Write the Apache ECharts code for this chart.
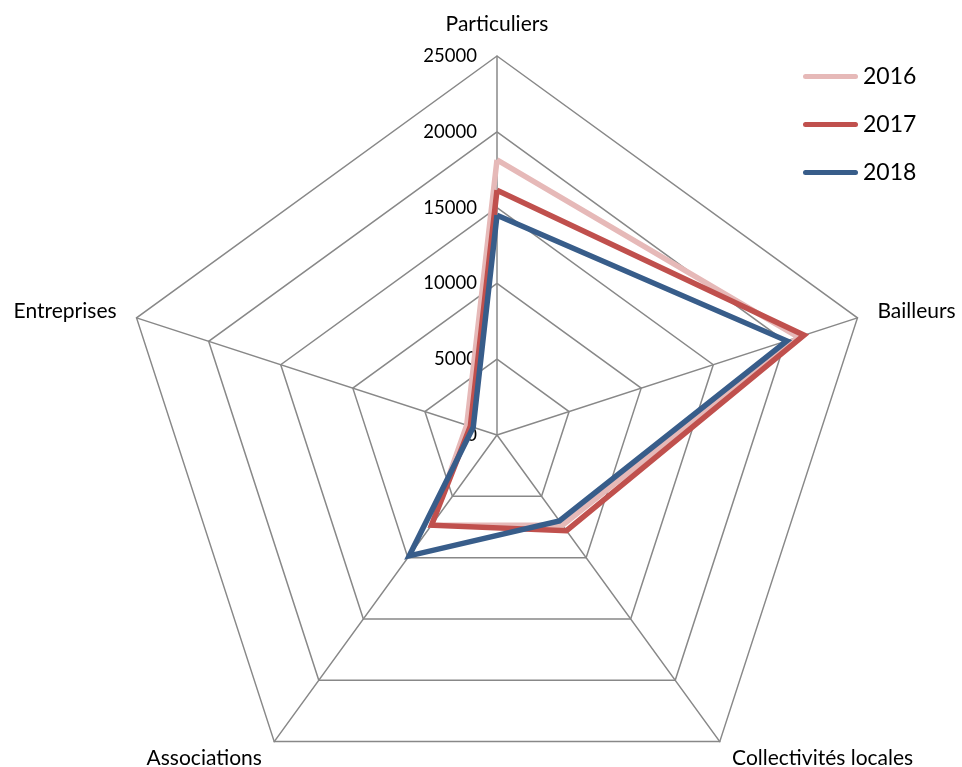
<!DOCTYPE html>
<html>
<head>
<meta charset="utf-8">
<script src="https://cdn.jsdelivr.net/npm/echarts@6/dist/echarts.min.js"></script>
<style>
html,body{margin:0;padding:0;background:#fff;}
#chart{width:962px;height:767px;}
</style>
</head>
<body>
<div id="chart"></div>
<script>
// Categories listed in ECharts drawing order (counter-clockwise from the top)
const categories = ['Particuliers', 'Entreprises', 'Associations', 'Collectivités locales', 'Bailleurs'];
const axisMax = 25000;
const years = ['2016', '2017', '2018'];
const values2016 = [18150, 2100, 7350, 7350, 20900];
const values2017 = [16150, 1850, 7350, 7800, 21300];
const values2018 = [14500, 1650, 9850, 7000, 20100];
const colors = ['#E6B9B8', '#C0504D', '#385D8A'];

const seriesValues = [values2016, values2017, values2018];
const font = 'Lato, "Open Sans", sans-serif';
const legendIcon = 'path://M2.5,0 H52.5 A2.5,2.5 0 0 1 52.5,5 H2.5 A2.5,2.5 0 0 1 2.5,0 Z';

const chart = echarts.init(document.getElementById('chart'));
chart.setOption({
  animation: false,
  color: colors,
  legend: {
    orient: 'vertical',
    left: 798,
    top: 60,
    itemWidth: 55,
    itemHeight: 5,
    itemGap: 25,
    icon: legendIcon,
    textStyle: { fontFamily: font, fontSize: 23, color: '#000' },
    data: years
  },
  radar: {
    center: [497, 435],
    radius: 379,
    shape: 'polygon',
    splitNumber: 5,
    nameGap: 21,
    axisName: { color: '#000', fontFamily: font, fontSize: 21 },
    axisLine: { lineStyle: { color: '#888', width: 1.5 } },
    splitLine: { lineStyle: { color: '#888', width: 1.5 } },
    splitArea: { show: false },
    axisTick: { show: false },
    axisLabel: { show: false },
    indicator: categories.map((name, i) => {
      const ind = { name: name, min: 0, max: axisMax };
      if (i === 0) {
        ind.axisLabel = {
          show: true, color: '#000', fontFamily: font, fontSize: 18.5, margin: 20,
          showMinLabel: true, showMaxLabel: true,
          formatter: v => String(v)
        };
      }
      return ind;
    })
  },
  series: [{
    type: 'radar',
    symbol: 'none',
    data: years.map((y, i) => ({
      name: y,
      value: seriesValues[i],
      lineStyle: { color: colors[i], width: 5.5, join: 'miter' },
      itemStyle: { color: colors[i] }
    }))
  }]
});
</script>
</body>
</html>
